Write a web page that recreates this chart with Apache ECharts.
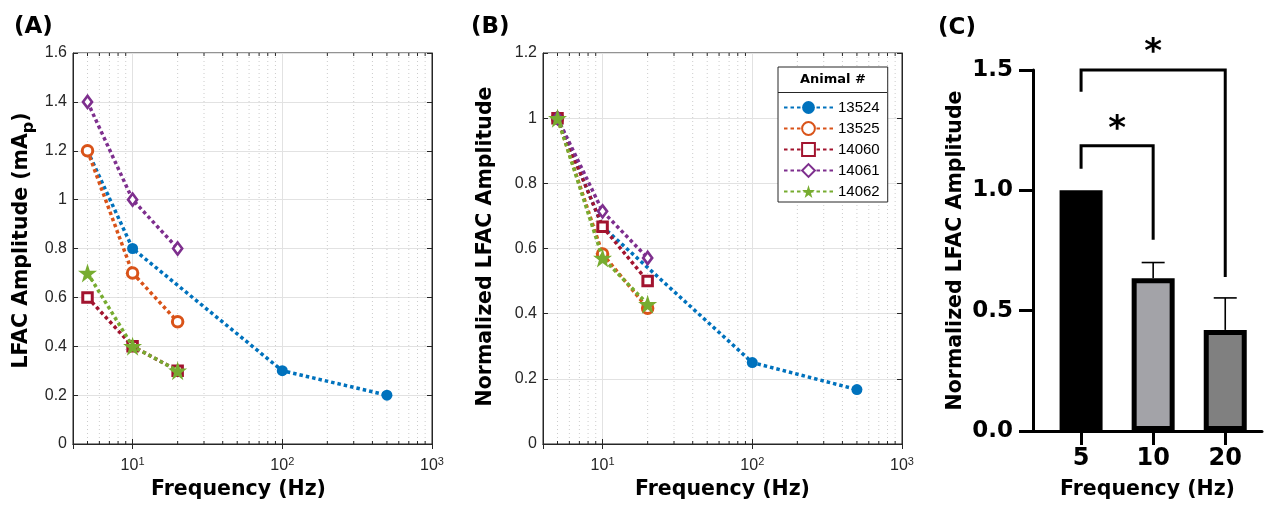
<!DOCTYPE html>
<html><head><meta charset="utf-8">
<script src="https://cdn.jsdelivr.net/npm/echarts@6/dist/echarts.min.js"></script>
<style>html,body{margin:0;padding:0;background:#fff}#c{width:1266px;height:505px}</style>
</head><body><div id="c"></div>
<script>
// ---------- data ----------
const animals = ['13524', '13525', '14060', '14061', '14062'];
const animalColors = ['#0072BD', '#D95319', '#A2142F', '#7E2F8E', '#77AC30'];

const freq13524 = [5, 10, 100, 500];
const freqShort = [5, 10, 20];

const amp13524 = [1.2, 0.8, 0.3, 0.2];
const amp13525 = [1.2, 0.7, 0.5];
const amp14060 = [0.6, 0.4, 0.3];
const amp14061 = [1.4, 1.0, 0.8];
const amp14062 = [0.7, 0.4, 0.3];

const norm13524 = [1, 0.667, 0.25, 0.167];
const norm13525 = [1, 0.583, 0.417];
const norm14060 = [1, 0.667, 0.5];
const norm14061 = [1, 0.714, 0.571];
const norm14062 = [1, 0.571, 0.429];

const decadeTicks = [10, 100, 1000];
const minorFreqs = [5, 6, 7, 8, 9, 20, 30, 40, 50, 60, 70, 80, 90, 200, 300, 400, 500, 600, 700, 800, 900];

const barCats = ['5', '10', '20'];
const barMean = [1.0, 0.635, 0.42];
const barErrTop = [null, 0.70, 0.553];
const barColors = ['#000000', '#a3a3a8', '#808080'];

const sigLeft = [0, 0];
const sigRight = [1, 2];
const sigLeftLow = [1.09, 1.41];
const sigTop = [1.185, 1.5];
const sigRightLow = [0.795, 0.64];
const sigStarY = [1.28, 1.60];

// ---------- styling ----------
const tickFont = 'Liberation Sans';
const boldFont = 'DejaVu Sans';
const axisCol = '#262626';
const gridCol = '#e2e2e2';
const STAR = 'path://M50,0 L61.8,35.1 L98.9,35.1 L68.8,57.3 L79.4,91.9 L50,70.6 L20.6,91.9 L31.2,57.3 L1.1,35.1 L38.2,35.1 Z';

const markerStyles = {
  '13524': {symbol: 'circle', symbolSize: 11, filled: true, bw: 0},
  '13525': {symbol: 'circle', symbolSize: 10.5, filled: false, bw: 3},
  '14060': {symbol: 'rect', symbolSize: 9.5, filled: false, bw: 3},
  '14061': {symbol: 'diamond', symbolSize: [9, 12], filled: false, bw: 2.7},
  '14062': {symbol: STAR, symbolSize: 19, filled: true, bw: 0}
};

function lineSeries(name, xs, ys, xi, yi) {
  const k = animals.indexOf(name);
  const c = animalColors[k];
  const m = markerStyles[name];
  return {
    type: 'line', name: name, xAxisIndex: xi, yAxisIndex: yi, z: 3 + k,
    data: xs.map((x, i) => [x, ys[i]]),
    symbol: m.symbol, symbolSize: m.symbolSize, showSymbol: true,
    lineStyle: {color: c, width: 3.5, type: [3.5, 3]},
    itemStyle: m.filled ? {color: c, borderWidth: 0} : {color: '#ffffff', borderColor: c, borderWidth: m.bw},
    emphasis: {disabled: true}
  };
}

function minorGrid(xi, yi) {
  return {
    type: 'custom', xAxisIndex: xi, yAxisIndex: yi, z: 1, silent: true,
    data: minorFreqs.map(v => [v, 0]),
    renderItem: function (params, api) {
      const x = api.coord([api.value(0), 0])[0];
      const cs = params.coordSys;
      return {type: 'group', children: [
        {type: 'line', shape: {x1: x, y1: cs.y, x2: x, y2: cs.y + cs.height},
         style: {stroke: '#cccccc', lineWidth: 1, lineDash: [1, 3]}},
        {type: 'line', shape: {x1: x, y1: cs.y + cs.height, x2: x, y2: cs.y + cs.height - 3},
         style: {stroke: axisCol, lineWidth: 1}},
        {type: 'line', shape: {x1: x, y1: cs.y, x2: x, y2: cs.y + 3},
         style: {stroke: axisCol, lineWidth: 1}}
      ]};
    }
  };
}

function isDecade(v) {
  const l = Math.log10(v);
  return Math.abs(l - Math.round(l)) < 1e-6 && decadeTicks.indexOf(Math.round(v)) >= 0;
}

function logXAxis(gi, nameShift) {
  return {
    gridIndex: gi, type: 'log', logBase: 10, min: 4, max: 1000,
    axisLine: {show: true, lineStyle: {color: axisCol, width: 1}},
    axisTick: {show: true, inside: true, length: 5, lineStyle: {color: axisCol}},
    axisLabel: {
      margin: 12,
      formatter: function (v) { return isDecade(v) ? '{b|10}{s|' + Math.round(Math.log10(v)) + '}' : ''; },
      rich: {
        b: {fontFamily: tickFont, fontSize: 16, color: axisCol, verticalAlign: 'bottom', lineHeight: 18},
        s: {fontFamily: tickFont, fontSize: 11, color: axisCol, verticalAlign: 'top', lineHeight: 18}
      }
    },
    splitLine: {show: true, lineStyle: {color: gridCol, width: 1}},
    name: 'Frequency (Hz)', nameLocation: 'middle', nameGap: 35,
    nameTextStyle: {fontFamily: boldFont, fontWeight: 'bold', fontSize: 20.5, color: '#000', padding: [0, nameShift, 0, 0]}
  };
}
function topXAxis(gi) {
  return {gridIndex: gi, type: 'log', logBase: 10, min: 4, max: 1000, position: 'top',
    axisLine: {show: true, lineStyle: {color: axisCol}},
    axisTick: {show: true, inside: true, length: 5, lineStyle: {color: axisCol}},
    axisLabel: {show: false}, splitLine: {show: false}};
}
function leftYAxis(gi, max, name, gap, shift, rich) {
  return {
    gridIndex: gi, type: 'value', min: 0, max: max, interval: 0.2,
    axisLine: {show: true, lineStyle: {color: axisCol, width: 1}},
    axisTick: {show: true, inside: true, length: 5, lineStyle: {color: axisCol}},
    axisLabel: {fontFamily: tickFont, fontSize: 16, color: axisCol, margin: 6},
    splitLine: {show: true, lineStyle: {color: gridCol, width: 1}},
    name: name, nameLocation: 'middle', nameGap: gap,
    nameTextStyle: Object.assign({fontFamily: boldFont, fontWeight: 'bold', fontSize: 20.5, color: '#000', padding: [0, 0, 0, shift]}, rich ? {rich: rich} : {})
  };
}
function rightYAxis(gi, max) {
  return {gridIndex: gi, type: 'value', min: 0, max: max, interval: 0.2, position: 'right',
    axisLine: {show: true, lineStyle: {color: axisCol}},
    axisTick: {show: true, inside: true, length: 5, lineStyle: {color: axisCol}},
    axisLabel: {show: false}, splitLine: {show: false}};
}

const option = {
  animation: false,
  backgroundColor: '#ffffff',
  title: [
    {text: '(A)', left: 9, top: 11, textStyle: {fontFamily: boldFont, fontWeight: 'bold', fontSize: 23, color: '#000'}},
    {text: '(B)', left: 466, top: 11, textStyle: {fontFamily: boldFont, fontWeight: 'bold', fontSize: 23, color: '#000'}},
    {text: '(C)', left: 933, top: 12, textStyle: {fontFamily: boldFont, fontWeight: 'bold', fontSize: 23, color: '#000'}}
  ],
  grid: [
    {left: 73, top: 53, width: 359, height: 394, show: true, borderColor: axisCol, borderWidth: 1, backgroundColor: '#fff'},
    {left: 543, top: 53, width: 359, height: 394, show: true, borderColor: axisCol, borderWidth: 1, backgroundColor: '#fff'},
    {left: 1033, top: 70, right: 4, bottom: 74}
  ],
  legend: {
    data: animals, orient: 'vertical', left: 778, top: 67,
    itemWidth: 49, itemHeight: 16, itemGap: 6,
    padding: [33, 8, 3, 5],
    backgroundColor: '#ffffff', borderColor: axisCol, borderWidth: 1,
    textStyle: {fontFamily: tickFont, fontSize: 15, color: '#000'},
    selectedMode: false
  },
  graphic: [
    {type: 'text', left: 800, top: 73, style: {text: 'Animal #', fontFamily: boldFont, fontWeight: 'bold', fontSize: 13, fill: '#000'}, z: 100},
    {type: 'line', shape: {x1: 778, y1: 92.5, x2: 887, y2: 92.5}, style: {stroke: axisCol, lineWidth: 1}, z: 100}
  ],
  xAxis: [
    logXAxis(0, 28), topXAxis(0), logXAxis(1, 0), topXAxis(1),
    {
      gridIndex: 2, type: 'value', min: -0.667, max: 2.51,
      axisLine: {show: true, onZero: false, lineStyle: {color: '#000', width: 3}},
      axisTick: {show: true, customValues: [0, 1, 2], length: 14, lineStyle: {color: '#000', width: 3}},
      axisLabel: {customValues: [0, 1, 2], formatter: v => barCats[Math.round(v)] || '', margin: 16,
        fontFamily: boldFont, fontWeight: 'bold', fontSize: 24, color: '#000'},
      splitLine: {show: false},
      name: 'Frequency (Hz)', nameLocation: 'middle', nameGap: 48,
      nameTextStyle: {fontFamily: boldFont, fontWeight: 'bold', fontSize: 20.5, color: '#000'}
    }
  ],
  yAxis: [
    leftYAxis(0, 1.6, 'LFAC Amplitude (mA{sub|p})', 36, 16,
      {sub: {fontFamily: boldFont, fontWeight: 'bold', fontSize: 16, color: '#000', verticalAlign: 'bottom', lineHeight: 30}}),
    rightYAxis(0, 1.6),
    leftYAxis(1, 1.2, 'Normalized LFAC Amplitude', 47, 4, null),
    rightYAxis(1, 1.2),
    {
      gridIndex: 2, type: 'value', min: 0, max: 1.5, interval: 0.5,
      axisLine: {show: true, onZero: false, lineStyle: {color: '#000', width: 3}},
      axisTick: {show: true, length: 14, lineStyle: {color: '#000', width: 3}},
      axisLabel: {formatter: v => v.toFixed(1), margin: 20, fontFamily: boldFont, fontWeight: 'bold', fontSize: 23, color: '#000'},
      splitLine: {show: false},
      name: 'Normalized LFAC Amplitude', nameLocation: 'middle', nameGap: 67,
      nameTextStyle: {fontFamily: boldFont, fontWeight: 'bold', fontSize: 20.5, color: '#000'}
    }
  ],
  series: [
    minorGrid(0, 0),
    lineSeries('13524', freq13524, amp13524, 0, 0),
    lineSeries('13525', freqShort, amp13525, 0, 0),
    lineSeries('14060', freqShort, amp14060, 0, 0),
    lineSeries('14061', freqShort, amp14061, 0, 0),
    lineSeries('14062', freqShort, amp14062, 0, 0),
    minorGrid(2, 2),
    lineSeries('13524', freq13524, norm13524, 2, 2),
    lineSeries('13525', freqShort, norm13525, 2, 2),
    lineSeries('14060', freqShort, norm14060, 2, 2),
    lineSeries('14061', freqShort, norm14061, 2, 2),
    lineSeries('14062', freqShort, norm14062, 2, 2),
    {
      type: 'bar', xAxisIndex: 4, yAxisIndex: 4, barWidth: 43, z: 3,
      data: barMean.map((v, i) => ({value: [i, v], itemStyle: {color: barColors[i]}})),
      itemStyle: {borderColor: '#000', borderWidth: 5},
      emphasis: {disabled: true}
    },
    {
      type: 'custom', xAxisIndex: 4, yAxisIndex: 4, z: 4, silent: true, clip: false,
      data: barMean.map((v, i) => [i, v, barErrTop[i]]).filter(d => d[2] != null),
      renderItem: function (params, api) {
        const p0 = api.coord([api.value(0), api.value(1)]);
        const p1 = api.coord([api.value(0), api.value(2)]);
        return {type: 'group', children: [
          {type: 'line', shape: {x1: p0[0], y1: p0[1], x2: p1[0], y2: p1[1]}, style: {stroke: '#000', lineWidth: 1.6}},
          {type: 'line', shape: {x1: p1[0] - 11.5, y1: p1[1], x2: p1[0] + 11.5, y2: p1[1]}, style: {stroke: '#000', lineWidth: 1.6}}
        ]};
      }
    },
    {
      type: 'custom', xAxisIndex: 4, yAxisIndex: 4, z: 4, silent: true, clip: false,
      data: sigLeft.map((l, i) => [l, sigRight[i], sigLeftLow[i], sigTop[i], sigRightLow[i], sigStarY[i]]),
      renderItem: function (params, api) {
        const x0 = api.value(0), x1 = api.value(1);
        const a = api.coord([x0, api.value(2)]);
        const b = api.coord([x0, api.value(3)]);
        const c = api.coord([x1, api.value(3)]);
        const d = api.coord([x1, api.value(4)]);
        const s = api.coord([(x0 + x1) / 2, api.value(5)]);
        return {type: 'group', children: [
          {type: 'polyline', shape: {points: [a, b, c, d]}, style: {stroke: '#000', lineWidth: 3, fill: null, lineJoin: 'miter'}},
          {type: 'text', x: s[0], y: s[1] + 7, style: {text: '*', fontFamily: boldFont, fontWeight: 'bold', fontSize: 34, fill: '#000', align: 'center', verticalAlign: 'middle'}}
        ]};
      }
    }
  ]
};

const chart = echarts.init(document.getElementById('c'), null, {renderer: 'canvas'});
chart.setOption(option);
</script>
</body></html>
